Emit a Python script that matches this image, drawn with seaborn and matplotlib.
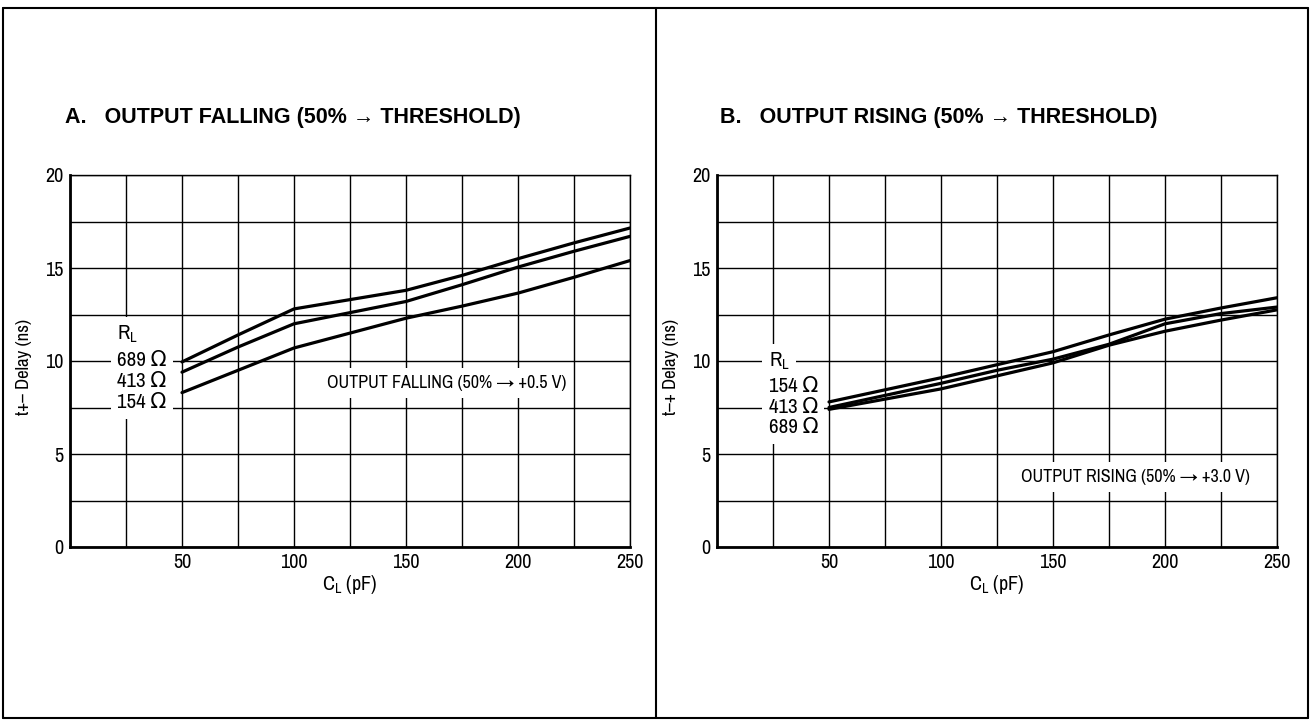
import matplotlib
matplotlib.use("Agg")
import matplotlib.pyplot as plt
from matplotlib import font_manager
from matplotlib.lines import Line2D
from matplotlib.ticker import MultipleLocator, FixedLocator
import numpy as np
import pandas as pd
import seaborn as sns

# ---------------- data ----------------
cl_pf = [50, 75, 100, 125, 150, 175, 200, 225, 250]

fall_689 = [9.95, 11.4, 12.8, 13.3, 13.8, 14.6, 15.5, 16.35, 17.15]
fall_413 = [9.4, 10.75, 12.0, 12.6, 13.2, 14.1, 15.05, 15.9, 16.7]
fall_154 = [8.3, 9.5, 10.7, 11.5, 12.3, 12.95, 13.65, 14.5, 15.4]

rise_154 = [7.8, 8.45, 9.1, 9.8, 10.5, 11.4, 12.25, 12.85, 13.4]
rise_413 = [7.5, 8.15, 8.8, 9.5, 10.1, 10.9, 12.0, 12.55, 12.9]
rise_689 = [7.4, 7.95, 8.5, 9.2, 9.9, 10.85, 11.6, 12.2, 12.75]

x_ticks = [50, 100, 150, 200, 250]
y_ticks = [0, 5, 10, 15, 20]

title_a = "A.   OUTPUT FALLING (50% \u2192 THRESHOLD)"
title_b = "B.   OUTPUT RISING (50% \u2192 THRESHOLD)"
ylabel_a = "t+\u2013 Delay (ns)"
ylabel_b = "t\u2013+ Delay (ns)"
note_a = "OUTPUT FALLING (50% \u2192 +0.5 V)"
note_b = "OUTPUT RISING (50% \u2192 +3.0 V)"
labels_a = ["689 \u03a9", "413 \u03a9", "154 \u03a9"]
labels_b = ["154 \u03a9", "413 \u03a9", "689 \u03a9"]

# ---------------- style ----------------
sns.set_style("white")
names = {f.name for f in font_manager.fontManager.ttflist}
preferred = ["Liberation Sans Narrow", "Archivo Narrow", "Roboto Condensed",
             "Barlow Semi Condensed", "Encode Sans Condensed", "Asap Condensed"]
cond = [n for n in preferred if n in names]
narrow = cond[0] if cond else "Liberation Sans"
plt.rcParams["font.family"] = [narrow, "DejaVu Sans"]
plt.rcParams["mathtext.fontset"] = "custom"
plt.rcParams["mathtext.rm"] = narrow
plt.rcParams["mathtext.it"] = narrow
for k in ["text.color", "axes.labelcolor", "xtick.color", "ytick.color"]:
    plt.rcParams[k] = "black"

fig = plt.figure(figsize=(13.12, 7.23), dpi=100)

def make_df(a, b, c, names3):
    return pd.DataFrame({
        "CL": cl_pf * 3,
        "Delay": a + b + c,
        "RL": [names3[0]] * len(cl_pf) + [names3[1]] * len(cl_pf) + [names3[2]] * len(cl_pf),
    })

df_a = make_df(fall_689, fall_413, fall_154, labels_a)
df_b = make_df(rise_154, rise_413, rise_689, labels_b)

W = 560 / 1312
H = 372 / 723
ax_a = fig.add_axes([70 / 1312, 1 - 547 / 723, W, H])
ax_b = fig.add_axes([717 / 1312, 1 - 547 / 723, W, H])

def style_axes(ax, ylabel):
    ax.set_xlim(0, 250)
    ax.set_ylim(0, 20)
    ax.xaxis.set_major_locator(FixedLocator(x_ticks))
    ax.xaxis.set_minor_locator(MultipleLocator(25))
    ax.yaxis.set_major_locator(FixedLocator(y_ticks))
    ax.yaxis.set_minor_locator(MultipleLocator(2.5))
    ax.set_xticklabels([str(v) for v in x_ticks])
    ax.set_yticklabels([str(v) for v in y_ticks])
    ax.tick_params(which="both", length=0, labelsize=14.5, colors="black")
    ax.tick_params(axis="x", pad=4)
    ax.tick_params(axis="y", pad=4.5)
    ax.grid(which="both", color="black", linewidth=1.0)
    ax.set_axisbelow(True)
    for s in ["top", "right"]:
        ax.spines[s].set_linewidth(1.0)
        ax.spines[s].set_color("black")
    for s in ["left", "bottom"]:
        ax.spines[s].set_linewidth(2.0)
        ax.spines[s].set_color("black")
    ax.set_xlabel(r"C$_\mathrm{L}$ (pF)", fontsize=14.5, labelpad=1)
    ax.set_ylabel(ylabel, fontsize=13.5)
    ax.yaxis.set_label_coords(-(70 - 32) / 560, 0.485)

for ax, df, lbls in [(ax_a, df_a, labels_a), (ax_b, df_b, labels_b)]:
    sns.lineplot(data=df, x="CL", y="Delay", hue="RL", hue_order=lbls,
                 palette=["black"] * 3, linewidth=2.3, legend=False, ax=ax,
                 zorder=5)

style_axes(ax_a, ylabel_a)
style_axes(ax_b, ylabel_b)

def label_block(ax, x, ys, texts, fs=15):
    for y, t in zip(ys, texts):
        ax.text(x, y, t, fontsize=fs, color="none", va="center", ha="left",
                zorder=3, bbox=dict(facecolor="white", edgecolor="none", pad=4.5))
    for y, t in zip(ys, texts):
        ax.text(x, y, t, fontsize=fs, color="black", va="center", ha="left",
                zorder=4)

label_block(ax_a, 21, [11.45, 10.05, 8.9, 7.75], [r"R$_\mathrm{L}$"] + labels_a)
label_block(ax_b, 23, [10.0, 8.65, 7.5, 6.4], [r"R$_\mathrm{L}$"] + labels_b)

ax_a.text(168, 8.8, note_a, fontsize=13, ha="center", va="center", zorder=3,
          bbox=dict(facecolor="white", edgecolor="none", pad=5))
ax_b.text(187, 3.75, note_b, fontsize=13, ha="center", va="center", zorder=3,
          bbox=dict(facecolor="white", edgecolor="none", pad=5))

fig.text(65 / 1312, 1 - 117 / 723, title_a, fontsize=15.5, fontweight="bold",
         family=["Liberation Sans", "DejaVu Sans"], va="center", ha="left")
fig.text(720 / 1312, 1 - 117 / 723, title_b, fontsize=15.5, fontweight="bold",
         family=["Liberation Sans", "DejaVu Sans"], va="center", ha="left")

# outer frame and divider
lw = 1.5
for xs, ys in [([3, 1308], [8, 8]), ([3, 1308], [718, 718]), ([3, 3], [8, 718]),
               ([1308, 1308], [8, 718]), ([656, 656], [8, 718])]:
    fig.add_artist(Line2D([v / 1312 for v in xs], [1 - v / 723 for v in ys],
                          color="black", linewidth=lw, transform=fig.transFigure))

fig.savefig("out.png", dpi=100, facecolor="white")
